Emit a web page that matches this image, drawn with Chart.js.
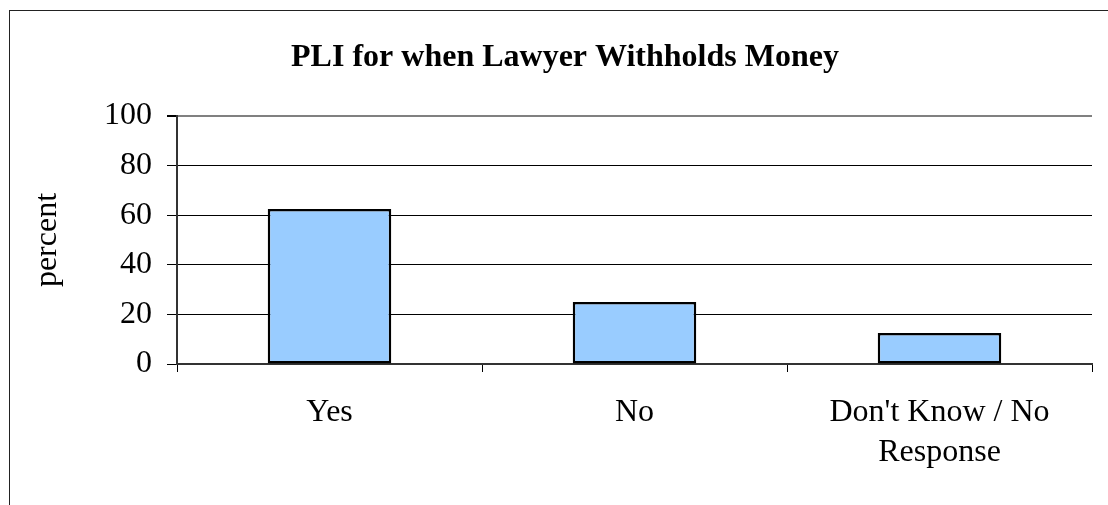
<!DOCTYPE html>
<html>
<head>
<meta charset="utf-8">
<script src="https://cdn.jsdelivr.net/npm/chart.js@4/dist/chart.umd.min.js"></script>
<style>
  html, body { margin: 0; padding: 0; background: #ffffff; overflow: hidden; }
  #wrap { position: relative; width: 1108px; height: 505px; }
  #frame { position: absolute; left: 9px; top: 10px; width: 1200px; height: 600px;
           border-left: 1px solid #222; border-top: 1px solid #222; box-sizing: border-box; }
  #c { position: absolute; left: 0; top: 0; }
</style>
</head>
<body>
<div id="wrap">
  <div id="frame"></div>
  <canvas id="c" width="1108" height="505"></canvas>
</div>
<script>
const chartTitle = "PLI for when Lawyer Withholds Money";
const categories = ["Yes", "No", ["Don't Know / No", "Response"]];
const percentValues = [62.5, 25, 12.5];
const yTicks = [0, 20, 40, 60, 80, 100];
const yAxisLabel = "percent";

const serif = "'Liberation Serif', 'Times New Roman', serif";

new Chart(document.getElementById('c'), {
  type: 'bar',
  data: {
    labels: categories,
    datasets: [{
      data: percentValues,
      backgroundColor: '#99CCFF',
      borderColor: '#000000',
      borderWidth: 2.5,
      borderSkipped: false,
      categoryPercentage: 1,
      barPercentage: 0.405
    }]
  },
  options: {
    responsive: false,
    animation: false,
    devicePixelRatio: 1,
    layout: { padding: { left: 38, right: 16, top: 0, bottom: 0 } },
    plugins: {
      legend: { display: false },
      tooltip: { enabled: false },
      title: {
        display: true,
        text: chartTitle,
        color: '#000',
        font: { family: serif, size: 32, weight: 'bold', lineHeight: 1.2 },
        padding: { top: 39, bottom: 38.6 }
      }
    },
    scales: {
      x: {
        type: 'category',
        offset: true,
        grid: {
          display: true,
          offset: true,
          drawOnChartArea: true,
          color: (ctx) => (ctx.index === categories.length ? '#808080' : 'rgba(0,0,0,0)'),
          tickColor: '#000',
          tickLength: 8,
          lineWidth: 1
        },
        border: { display: true, color: '#333', width: 2 },
        ticks: {
          color: '#000',
          font: { family: serif, size: 32, lineHeight: 1.25 },
          padding: 21,
          maxRotation: 0,
          autoSkip: false
        },
        afterFit: (s) => { s.height = 505 - 364; }
      },
      y: {
        min: 0,
        max: 100,
        afterBuildTicks: (s) => { s.ticks = yTicks.map(v => ({ value: v })); },
        grid: {
          color: (ctx) => (ctx.tick && ctx.tick.value === 100 ? '#808080' : '#000'),
          tickColor: '#000',
          tickLength: 10,
          lineWidth: (ctx) => (ctx.tick && ctx.tick.value === 100 ? 2 : 1)
        },
        border: { display: true, color: '#333', width: 2 },
        ticks: {
          color: '#000',
          font: { family: serif, size: 32 },
          padding: 15
        },
        title: {
          display: true,
          text: yAxisLabel,
          color: '#000',
          font: { family: serif, size: 32, lineHeight: 0.8 },
          padding: { top: -3, bottom: 0 }
        },
        afterFit: (s) => { s.width = 177 - 38; }
      }
    }
  }
});
</script>
</body>
</html>
